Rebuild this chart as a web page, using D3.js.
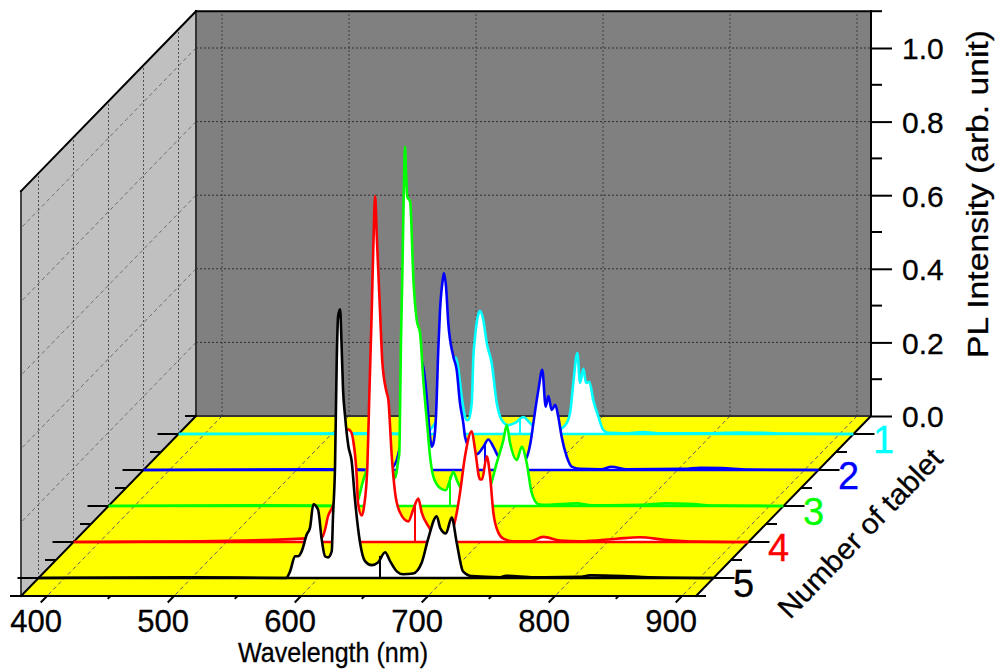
<!DOCTYPE html>
<html>
<head>
<meta charset="utf-8">
<script src="https://cdn.jsdelivr.net/npm/d3@7"></script>
<style>
  body { margin: 0; background: #fff; }
  svg { display: block; }
  text { font-family: "Liberation Sans", Arial, sans-serif; fill: #000; stroke: #000; stroke-width: 0.3px; }
</style>
</head>
<body>
<svg id="chart" width="1000" height="672"></svg>
<script>
// values (wavelength in nm, intensity in arb. unit)
const wl1 = [379.5,520,574,576,577.6,581.5,585.4,591,596,598,599.8,602.5,605.1,606.4,607.7,610.4,611.7,613,615.4,616.9,619.5,622.2,626.1,630.1,634,639.2,644.5,651,656.3,661,668,676,684,687.8,690.4,693.5,695.7,698.3,700.4,703,706.1,710.1,714,717.8,731,745,760,800,820,840,860,911];
const int1 = [0,0.002,0,0.005,0.011,0.03,0.065,0.147,0.207,0.207,0.179,0.101,0.047,0.038,0.038,0.084,0.21,0.264,0.323,0.334,0.31,0.247,0.193,0.084,0.038,0.024,0.03,0.046,0.03,0.016,0.008,0.008,0.024,0.057,0.139,0.22,0.139,0.177,0.139,0.142,0.092,0.047,0.011,0.003,0.002,0.005,0.002,0.002,0.004,0.003,0.001,0];

const wl2 = [379.5,520,574,576.2,578.9,580.9,585.4,591,595.7,598,600.4,602.5,603.8,606.5,608.3,609.8,611.7,613,615.1,616.1,617.7,619.5,623.5,626.1,628.7,631.3,632.7,637.9,641.9,647.1,651,655,658.9,664,672,680,684.6,686.5,690.4,693.5,696.2,698.3,700.9,703.7,706.1,708.8,712.8,716.7,723,740,748,760,805,818,835,855,911];
const int2 = [0,0.002,0,0.009,0.027,0.054,0.109,0.204,0.293,0.299,0.267,0.199,0.145,0.063,0.082,0.145,0.335,0.435,0.516,0.535,0.498,0.399,0.308,0.272,0.182,0.128,0.09,0.05,0.043,0.063,0.083,0.063,0.036,0.022,0.016,0.027,0.082,0.128,0.217,0.272,0.172,0.201,0.163,0.177,0.145,0.09,0.036,0.009,0.003,0.002,0.009,0.002,0.003,0.006,0.005,0.001,0];

const wl3 = [379.5,500,574.4,576,580.2,582.3,587,591.7,595.7,599.6,603.5,605,607.7,608.5,609,609.8,610.8,612.2,613,613.8,614.8,617,619.6,622.2,624.8,627.4,630.6,632.7,635.3,640.6,645,648.4,651,653.7,656.3,664,672,680,685.2,690.4,693.1,695.7,701,704.9,708.8,712.8,718,724.6,748,760,800,818,835,860,911];
const int3 = [0,0.002,0,0.016,0.071,0.093,0.152,0.234,0.288,0.234,0.098,0.076,0.125,0.144,0.243,0.45,0.614,0.886,0.976,0.905,0.84,0.827,0.614,0.505,0.47,0.342,0.215,0.134,0.08,0.049,0.043,0.071,0.093,0.071,0.052,0.02,0.016,0.052,0.117,0.179,0.22,0.171,0.125,0.161,0.117,0.035,0.005,0.003,0.007,0.002,0.003,0.007,0.006,0.001,0];

const wl4 = [379.5,480,575,577.6,579.9,582.8,585.4,589.4,592.5,595.7,598,599.6,602.5,603.5,606.5,608.3,610.9,612.4,614.3,615.6,617,618.3,620.9,622.7,626.1,627.4,630.1,632.7,636.6,643.1,647,651,653.7,658.9,664,672,676,681.3,683.9,687.8,693.1,695.7,699.6,701.2,704.9,707.5,710.1,714,718,725.6,739,749.4,762.6,778,807.5,825.6,845,870,911];
const int4 = [0,0.002,0.012,0.034,0.07,0.091,0.115,0.197,0.279,0.306,0.3,0.279,0.179,0.107,0.072,0.097,0.206,0.395,0.624,0.804,0.94,0.831,0.624,0.488,0.406,0.387,0.233,0.135,0.08,0.056,0.088,0.118,0.08,0.043,0.02,0.012,0.018,0.08,0.135,0.233,0.301,0.251,0.17,0.17,0.233,0.179,0.08,0.026,0.009,0.002,0.002,0.014,0.004,0.002,0.009,0.013,0.006,0.001,0];

const wl5 = [379.5,500,574.4,577.6,581.5,583.9,586.8,590.7,593.3,595.9,599.6,602.5,605.1,607.5,610.4,611.4,613,614.3,615.4,617,618,619.3,620.9,623.5,626.1,628.7,632.7,636.6,641.9,646.8,652.4,656.3,661.6,666.5,674.4,681.3,686.2,693.1,695.7,700.2,704.9,708.8,713.8,720.6,743,747.6,770,805,814,840,860,911];
const int5 = [0,0.002,0,0.018,0.059,0.059,0.073,0.118,0.137,0.2,0.186,0.105,0.059,0.056,0.073,0.168,0.306,0.586,0.711,0.73,0.648,0.512,0.44,0.358,0.317,0.213,0.096,0.046,0.035,0.042,0.07,0.046,0.018,0.01,0.012,0.042,0.105,0.168,0.137,0.121,0.164,0.096,0.018,0.005,0.002,0.006,0.002,0.003,0.007,0.005,0.002,0];

// every tablet has one thin stick at the same wavelength
const stickWl = 648.4;
const stickInt = [0.045, 0.07, 0.08, 0.1, 0.06];

const tablets = [1, 2, 3, 4, 5];
const tabletColors = ["#00ffff", "#0000ff", "#00ff00", "#ff0000", "#000000"];
const wlTicks = [400, 500, 600, 700, 800, 900];
const wlMinor = [450, 550, 650, 750, 850];
const intTicks = [0, 0.2, 0.4, 0.6, 0.8, 1.0];
const intMinor = [0.1, 0.3, 0.5, 0.7, 0.9, 1.1];
const depthMinor = [0.5, 1.5, 2.5, 3.5, 4.5, 5.5];

const allWl = [wl1, wl2, wl3, wl4, wl5];
const allInt = [int1, int2, int3, int4, int5];

const xScale = d3.scaleLinear().domain([379.5, 911]).range([196, 871]);
const yScale = d3.scaleLinear().domain([0, 1.1]).range([416, 11.2]);
// depth goes down and to the left
const dxScale = d3.scaleLinear().domain([0.5, 5.5]).range([0, -175]);
const dyScale = d3.scaleLinear().domain([0.5, 5.5]).range([0, 180]);

const px = (w, z) => xScale(w) + dxScale(z);
const py = (v, z) => yScale(v) + dyScale(z);

const svg = d3.select("#chart");
const wMin = xScale.domain()[0], wMax = xScale.domain()[1], vMax = yScale.domain()[1];
const poly = pts => pts.map(p => p.join(",")).join(" ");

// walls and floor
svg.append("polygon").attr("fill", "#808080")
  .attr("points", poly([[px(wMin, .5), py(0, .5)], [px(wMax, .5), py(0, .5)], [px(wMax, .5), py(vMax, .5)], [px(wMin, .5), py(vMax, .5)]]));
svg.append("polygon").attr("fill", "#c0c0c0")
  .attr("points", poly([[px(wMin, .5), py(0, .5)], [px(wMin, 5.5), py(0, 5.5)], [px(wMin, 5.5), py(vMax, 5.5)], [px(wMin, .5), py(vMax, .5)]]));
svg.append("polygon").attr("fill", "#ffff00")
  .attr("points", poly([[px(wMin, .5), py(0, .5)], [px(wMax, .5), py(0, .5)], [px(wMax, 5.5), py(0, 5.5)], [px(wMin, 5.5), py(0, 5.5)]]));

// grid
const grid = svg.append("g").attr("fill", "none");
function gridLine(x1, y1, x2, y2, color, dash) {
  grid.append("line").attr("x1", x1).attr("y1", y1).attr("x2", x2).attr("y2", y2)
    .attr("stroke", color).attr("stroke-width", 1).attr("stroke-dasharray", dash);
}
wlTicks.forEach(w => {
  gridLine(px(w, .5), py(0, .5), px(w, .5), py(vMax, .5), "#404040", "2,2");
  gridLine(px(w, .5), py(0, .5), px(w, 5.5), py(0, 5.5), "#606060", "4,3");
});
intTicks.slice(1).forEach(v => {
  gridLine(px(wMin, .5), py(v, .5), px(wMax, .5), py(v, .5), "#303030", "2,2");
  gridLine(px(wMin, .5), py(v, .5), px(wMin, 5.5), py(v, 5.5), "#707070", "4,3");
});
tablets.forEach(z => {
  gridLine(px(wMin, z), py(0, z), px(wMin, z), py(vMax, z), "#505050", "2,2");
});

// outline of the box
const frame = svg.append("g").attr("fill", "none").attr("stroke-linecap", "square");
function frameLine(x1, y1, x2, y2, color, width) {
  frame.append("line").attr("x1", x1).attr("y1", y1).attr("x2", x2).attr("y2", y2)
    .attr("stroke", color).attr("stroke-width", width);
}
frameLine(px(wMin, .5), py(0, .5), px(wMax, .5), py(0, .5), "#333", 2);
frameLine(px(wMin, .5), py(0, .5), px(wMin, .5), py(vMax, .5), "#333", 2);
frameLine(px(wMin, 5.5), py(0, 5.5), px(wMin, 5.5), py(vMax, 5.5), "#444", 2);
frameLine(px(wMin, .5), py(vMax, .5), px(wMin, 5.5), py(vMax, 5.5), "#000", 2);
frameLine(px(wMin, .5), py(vMax, .5), px(wMax, .5), py(vMax, .5), "#000", 2);
frameLine(px(wMax, .5), py(0, .5), px(wMax, .5), py(vMax, .5), "#000", 2);

// spectra, back to front, each one hides what is behind it
tablets.forEach((z, i) => {
  const pts = allWl[i].map((w, k) => [w, allInt[i][k]]);
  const g = svg.append("g").attr("class", "tablet-" + z);

  const area = d3.area()
    .x(d => px(d[0], z))
    .y0(py(0, z))
    .y1(d => py(d[1], z))
    .curve(d3.curveMonotoneX);
  const line = d3.line()
    .x(d => px(d[0], z))
    .y(d => py(d[1], z))
    .curve(d3.curveMonotoneX);

  g.append("path").datum(pts).attr("fill", "#fff").attr("d", area);
  g.append("line")
    .attr("x1", px(stickWl, z)).attr("x2", px(stickWl, z))
    .attr("y1", py(0, z)).attr("y2", py(stickInt[i], z))
    .attr("stroke", tabletColors[i]).attr("stroke-width", 2);
  g.append("line")
    .attr("x1", px(wMin, z)).attr("x2", px(wMax, z))
    .attr("y1", py(0, z)).attr("y2", py(0, z))
    .attr("stroke", tabletColors[i]).attr("stroke-width", 2.5);
  g.append("path").datum(pts).attr("fill", "none")
    .attr("stroke", tabletColors[i]).attr("stroke-width", 2.6)
    .attr("stroke-linejoin", "round").attr("d", line);
});

// front edges drawn over the floor
frameLine(px(wMin, .5), py(0, .5), px(wMin, 5.5), py(0, 5.5), "#000", 2);
frameLine(px(wMax, .5), py(0, .5), px(wMax, 5.5), py(0, 5.5), "#000", 2);
frameLine(px(wMin, 5.5) - 10, py(0, 5.5), px(wMax, 5.5) + 9, py(0, 5.5), "#000", 2);

// wavelength axis, ticks run along the depth direction
const axes = svg.append("g").attr("stroke", "#000").attr("stroke-width", 2);
wlTicks.forEach(w => {
  axes.append("line").attr("x1", px(w, 5.5)).attr("y1", py(0, 5.5)).attr("x2", px(w, 5.68)).attr("y2", py(0, 5.68));
});
wlMinor.forEach(w => {
  axes.append("line").attr("x1", px(w, 5.5)).attr("y1", py(0, 5.5)).attr("x2", px(w, 5.58)).attr("y2", py(0, 5.58));
});
svg.append("g").selectAll("text").data(wlTicks).join("text")
  .attr("x", d => px(d, 5.5) - 11).attr("y", 632)
  .attr("text-anchor", "middle").attr("font-size", 31)
  .text(d => d);
svg.append("text").attr("x", 333).attr("y", 662).attr("text-anchor", "middle")
  .attr("font-size", 28).attr("textLength", 190).attr("lengthAdjust", "spacingAndGlyphs")
  .text("Wavelength (nm)");

// intensity axis
const yAxis = d3.axisRight(yScale).tickValues(intTicks).tickSize(21).tickPadding(10).tickFormat(d3.format(".1f"));
const yAxisG = svg.append("g").attr("transform", `translate(${px(wMax, .5)},0)`).call(yAxis);
yAxisG.select(".domain").remove();
yAxisG.selectAll("line").attr("stroke", "#000").attr("stroke-width", 2);
yAxisG.selectAll("text").attr("font-size", 30).attr("font-family", "Liberation Sans").attr("fill", "#000").attr("dy", "0.36em");
intMinor.forEach(v => {
  axes.append("line").attr("x1", px(wMax, .5)).attr("y1", py(v, .5)).attr("x2", px(wMax, .5) + 11).attr("y2", py(v, .5));
});
svg.append("text").attr("transform", "translate(988,194) rotate(-90)").attr("text-anchor", "middle")
  .attr("font-size", 29).attr("textLength", 328).attr("lengthAdjust", "spacingAndGlyphs")
  .text("PL Intensity (arb. unit)");

// tablet axis, on both sides of the floor
tablets.forEach(z => {
  axes.append("line").attr("x1", px(wMin, z)).attr("y1", py(0, z)).attr("x2", px(wMin, z) - 21).attr("y2", py(0, z));
  axes.append("line").attr("x1", px(wMax, z)).attr("y1", py(0, z)).attr("x2", px(wMax, z) + 21).attr("y2", py(0, z));
});
depthMinor.slice(1, 5).forEach(z => {
  axes.append("line").attr("x1", px(wMin, z)).attr("y1", py(0, z)).attr("x2", px(wMin, z) - 11).attr("y2", py(0, z));
  axes.append("line").attr("x1", px(wMax, z)).attr("y1", py(0, z)).attr("x2", px(wMax, z) + 11).attr("y2", py(0, z));
});
axes.append("line").attr("x1", px(wMin, .5)).attr("y1", py(0, .5)).attr("x2", px(wMin, .5) - 11).attr("y2", py(0, .5));

svg.append("g").selectAll("text").data(tablets).join("text")
  .attr("x", d => px(wMax, d) + 30).attr("y", d => py(0, d) + 19)
  .attr("text-anchor", "middle").attr("font-size", 38)
  .style("fill", (d, i) => tabletColors[i])
  .style("stroke", (d, i) => tabletColors[i])
  .text(d => d);
svg.append("text").attr("transform", "translate(790,620) rotate(-46)")
  .attr("font-size", 29).attr("textLength", 222).attr("lengthAdjust", "spacingAndGlyphs")
  .text("Number of tablet");
</script>
</body>
</html>
